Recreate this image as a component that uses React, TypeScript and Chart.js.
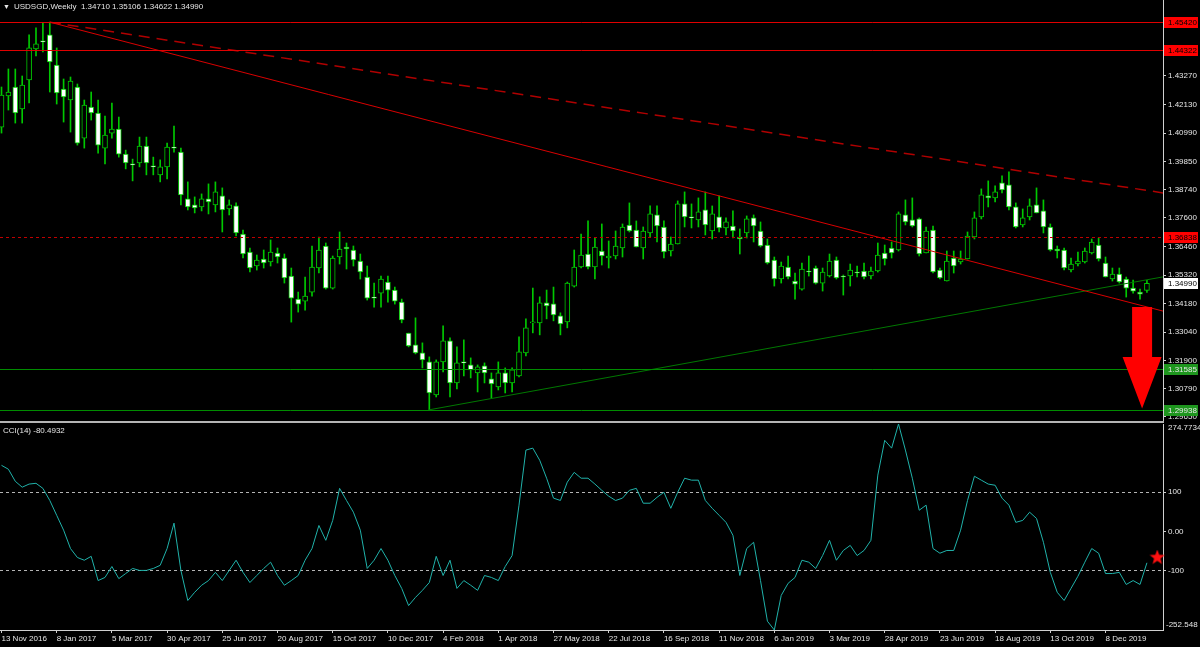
import React, { useEffect, useRef } from "react";
import { Chart, registerables } from "chart.js";

Chart.register(...registerables);

// ---------- DATA (weekly USDSGD, 13 Nov 2016 .. 19 Jan 2020) ----------
const opens = [
  1.4123, 1.4247, 1.4283, 1.4195, 1.4311, 1.4435, 1.4467, 1.4491, 1.4371, 1.4275,
  1.4231, 1.4283, 1.4079, 1.4203, 1.4179, 1.4039, 1.4099, 1.4115, 1.4015, 1.3976,
  1.398, 1.4047, 1.3968, 1.3932, 1.3964, 1.4043, 1.4023, 1.3836, 1.3812, 1.3804,
  1.3836, 1.3812, 1.3848, 1.3796, 1.3808, 1.3696, 1.3624, 1.3568, 1.3596, 1.3584,
  1.362, 1.36, 1.3528, 1.3436, 1.3428, 1.3464, 1.356, 1.3648, 1.348, 1.3604,
  1.3644, 1.3632, 1.3588, 1.3524, 1.3444, 1.346, 1.3504, 1.3472, 1.3424, 1.33,
  1.3253, 1.3221, 1.3185, 1.3053, 1.3185, 1.3269, 1.3101, 1.3185, 1.3173, 1.3141,
  1.3169, 1.3117, 1.3085, 1.3141, 1.3101, 1.3129, 1.3221, 1.3341, 1.3341, 1.3421,
  1.3417, 1.3369, 1.3345, 1.3488, 1.3564, 1.3616, 1.3564, 1.3628, 1.36, 1.3608,
  1.364, 1.3732, 1.3712, 1.364, 1.37, 1.3772, 1.3724, 1.3628, 1.3656, 1.3816,
  1.3764, 1.3752, 1.3792, 1.3708, 1.3764, 1.372, 1.3728, 1.3684, 1.37, 1.376,
  1.3708, 1.3652, 1.3592, 1.3516, 1.3564, 1.3508, 1.3476, 1.3548, 1.356, 1.35,
  1.3528, 1.3592, 1.3528, 1.3528, 1.3544, 1.3548, 1.3528, 1.3548, 1.362, 1.364,
  1.3632, 1.3772, 1.3752, 1.3756, 1.362, 1.3712, 1.3552, 1.3508, 1.36, 1.3584,
  1.3596, 1.3684, 1.3764, 1.3848, 1.384, 1.39, 1.3892, 1.3804, 1.3732, 1.3764,
  1.3812, 1.3788, 1.3724, 1.3636, 1.3632, 1.3552, 1.3576, 1.3584, 1.362, 1.3652,
  1.358, 1.3516, 1.3536, 1.3516, 1.348, 1.3464, 1.3471,
];
const highs = [
  1.4283, 1.4355, 1.4355, 1.4327, 1.4491, 1.4519, 1.4539, 1.4542, 1.4439, 1.4315,
  1.4323, 1.4295, 1.4231, 1.4263, 1.4231, 1.4167, 1.4219, 1.4163, 1.4031, 1.3995,
  1.4083, 1.4083, 1.4003, 1.3992, 1.4059, 1.4127, 1.4039, 1.3904, 1.3844, 1.3856,
  1.3896, 1.3904, 1.388, 1.3832, 1.382, 1.3712, 1.364, 1.3612, 1.3632, 1.3672,
  1.364, 1.3616, 1.356, 1.3464, 1.3524, 1.3648, 1.3684, 1.366, 1.3608, 1.3704,
  1.366, 1.3648, 1.3616, 1.3568, 1.35, 1.3528, 1.3528, 1.3484, 1.3436, 1.33,
  1.3361, 1.3261, 1.3205, 1.3193, 1.3329, 1.3281, 1.3245, 1.3273, 1.3201, 1.3173,
  1.3181, 1.3141, 1.3185, 1.3161, 1.3161, 1.3285, 1.3357, 1.348, 1.3445, 1.3472,
  1.3484, 1.3381, 1.3504, 1.3632, 1.3696, 1.3748, 1.368, 1.3736, 1.3668, 1.3708,
  1.3736, 1.382, 1.3748, 1.3724, 1.3808, 1.3808, 1.3748, 1.3684, 1.3828, 1.3864,
  1.3816, 1.384, 1.3864, 1.3808, 1.3848, 1.376, 1.3788, 1.3716, 1.3768, 1.3772,
  1.3744, 1.3676, 1.3604, 1.3584, 1.3608, 1.354, 1.358, 1.3608, 1.3568, 1.356,
  1.3616, 1.3604, 1.3532, 1.3576, 1.3568, 1.358, 1.3564, 1.366, 1.3652, 1.3664,
  1.3784, 1.3832, 1.384, 1.376, 1.3724, 1.3728, 1.356, 1.3628, 1.3628, 1.3628,
  1.3704, 1.3784, 1.3876, 1.3908, 1.3888, 1.3928, 1.3944, 1.382, 1.3796, 1.3836,
  1.388, 1.3832, 1.3736, 1.3648, 1.364, 1.36, 1.3624, 1.364, 1.3676, 1.368,
  1.3604, 1.356, 1.356, 1.3524, 1.3512, 1.3476, 1.35106,
];
const lows = [
  1.4099, 1.4191, 1.4139, 1.4139, 1.4219, 1.4407, 1.4423, 1.4263, 1.4215, 1.4143,
  1.4103, 1.4051, 1.4039, 1.4151, 1.4019, 1.3976, 1.4079, 1.4003, 1.3956, 1.3908,
  1.3964, 1.3932, 1.3932, 1.3904, 1.3916, 1.4023, 1.3812, 1.3792, 1.378, 1.3788,
  1.3776, 1.3784, 1.3704, 1.3772, 1.3688, 1.36, 1.3544, 1.3552, 1.356, 1.3568,
  1.358, 1.35, 1.3344, 1.3384, 1.3392, 1.3448, 1.354, 1.3476, 1.3476, 1.3576,
  1.3556, 1.3568, 1.3516, 1.3432, 1.3404, 1.3404, 1.3424, 1.3416, 1.3341, 1.3245,
  1.3217, 1.3161, 1.29938, 1.3045, 1.3145, 1.3045, 1.3077, 1.3129, 1.3121, 1.3065,
  1.3101, 1.3041, 1.3073, 1.3061, 1.3065, 1.3125, 1.3209, 1.3301, 1.3293, 1.3357,
  1.3349, 1.3293, 1.3321, 1.3484, 1.356, 1.3556, 1.3516, 1.3572, 1.356, 1.3596,
  1.3604, 1.3704, 1.3644, 1.3596, 1.3684, 1.3664, 1.36, 1.3608, 1.3656, 1.3724,
  1.372, 1.3724, 1.3692, 1.3676, 1.3704, 1.3692, 1.368, 1.3616, 1.368, 1.3664,
  1.3644, 1.3576, 1.3488, 1.35, 1.3516, 1.3436, 1.3472, 1.3528, 1.3496, 1.3468,
  1.3524, 1.3516, 1.3452, 1.3488, 1.3524, 1.3516, 1.3516, 1.3544, 1.3572, 1.36,
  1.3628, 1.3732, 1.3724, 1.3608, 1.362, 1.354, 1.3516, 1.3508, 1.354, 1.3576,
  1.3596, 1.3676, 1.3756, 1.3804, 1.3824, 1.386, 1.3792, 1.372, 1.3724, 1.3752,
  1.378, 1.37, 1.3628, 1.36, 1.3552, 1.3544, 1.3568, 1.358, 1.3616, 1.3588,
  1.3524, 1.3508, 1.35, 1.3444, 1.346, 1.3436, 1.34622,
];
const closes = [
  1.4251, 1.4263, 1.4179, 1.4291, 1.4439, 1.4455, 1.4463, 1.4383, 1.4259, 1.4243,
  1.4307, 1.4059, 1.4211, 1.4179, 1.4051, 1.4091, 1.4115, 1.4015, 1.398, 1.3972,
  1.4047, 1.398, 1.3964, 1.3964, 1.4043, 1.4039, 1.3852, 1.3804, 1.38, 1.3836,
  1.3824, 1.3864, 1.3792, 1.3812, 1.37, 1.3616, 1.356, 1.3592, 1.358, 1.3624,
  1.3604, 1.352, 1.344, 1.3416, 1.3448, 1.3564, 1.3632, 1.348, 1.36, 1.3636,
  1.3636, 1.3592, 1.3544, 1.344, 1.344, 1.3516, 1.3472, 1.3428, 1.3353, 1.3249,
  1.3221, 1.3193, 1.3061, 1.3185, 1.3269, 1.3101, 1.3181, 1.3181, 1.3153, 1.3165,
  1.3141, 1.3097, 1.3141, 1.3101, 1.3153, 1.3225, 1.3321, 1.3345, 1.3421, 1.3409,
  1.3373, 1.3337, 1.35, 1.3564, 1.3612, 1.3564, 1.3644, 1.3608, 1.3608, 1.3648,
  1.3724, 1.3708, 1.3644, 1.3708, 1.3776, 1.3728, 1.3624, 1.3656, 1.3816, 1.3764,
  1.376, 1.3784, 1.3732, 1.3776, 1.372, 1.3744, 1.3708, 1.3676, 1.3756, 1.3728,
  1.3648, 1.358, 1.3516, 1.3568, 1.3524, 1.3496, 1.3556, 1.3544, 1.35, 1.3544,
  1.3588, 1.352, 1.3524, 1.3552, 1.354, 1.3524, 1.3548, 1.3612, 1.3596, 1.362,
  1.3776, 1.3744, 1.3728, 1.3616, 1.3708, 1.3544, 1.352, 1.3588, 1.3568, 1.3596,
  1.3688, 1.376, 1.3852, 1.384, 1.3864, 1.3872, 1.3804, 1.3724, 1.376, 1.3808,
  1.378, 1.3724, 1.3632, 1.3628, 1.356, 1.3576, 1.3588, 1.3628, 1.3664, 1.3596,
  1.3524, 1.3536, 1.3504, 1.348, 1.3468, 1.3456, 1.3499,
];
const cci = [
  169, 159, 128, 113, 121, 123, 110, 79, 41, 3,
  -44, -67, -74, -64, -126, -118, -90, -121, -108, -95,
  -100, -100, -95, -87, -44, 21, -100, -177, -156, -138,
  -126, -105, -126, -100, -74, -105, -131, -113, -95, -79,
  -113, -138, -126, -113, -74, -44, 15, -23, 28, 110,
  79, 49, 3, -95, -74, -44, -74, -113, -146, -190,
  -169, -151, -131, -64, -113, -74, -146, -126, -138, -151,
  -113, -118, -126, -90, -62, 67, 208, 213, 182, 136,
  85, 79, 126, 151, 136, 136, 121, 105, 90, 79,
  85, 105, 110, 72, 72, 87, 100, 59, 100, 136,
  131, 131, 79, 59, 41, 23, -10, -113, -44, -28,
  -126, -230, -252.548, -164, -133, -118, -74, -79, -95, -62,
  -23, -74, -49, -36, -62, -49, -23, 144, 233, 213,
  274.7734, 208, 136, 54, 67, -44, -56, -49, -49, 3,
  79, 141, 131, 121, 118, 85, 67, 23, 28, 49,
  33, -28, -105, -156, -177, -146, -115, -79, -44, -56,
  -108, -108, -105, -136, -126, -136, -80.4932,
];

const xTickLabels = [
  "13 Nov 2016", "8 Jan 2017", "5 Mar 2017", "30 Apr 2017", "25 Jun 2017", "20 Aug 2017",
  "15 Oct 2017", "10 Dec 2017", "4 Feb 2018", "1 Apr 2018", "27 May 2018", "22 Jul 2018",
  "16 Sep 2018", "11 Nov 2018", "6 Jan 2019", "3 Mar 2019", "28 Apr 2019", "23 Jun 2019",
  "18 Aug 2019", "13 Oct 2019", "8 Dec 2019",
];
const X_TICK_STEP = 8;

const priceTicks = [
  1.4327, 1.4213, 1.4099, 1.3985, 1.3874, 1.376, 1.3646, 1.3532, 1.3418, 1.3304, 1.319, 1.3079, 1.2965,
];
const cciMidTicks = [100, 0, -100];
const cciMidTickLabels = ["100", "0.00", "-100"];
const CCI_MAX = 274.7734;
const CCI_MIN = -252.548;
const CCI_LEVELS = [100, -100];

// horizontal objects
const levelPrices = [1.4542, 1.44322, 1.36838, 1.31585, 1.29938];
// axis price tags
const tagPrices = [1.4542, 1.44322, 1.36838, 1.3499, 1.31585, 1.29938];

// trend lines: [bar index, price]
const redTrendIdx = [7, 170];
const redTrendPrice = [1.4542, 1.3376];
const redDashIdx = [7, 170];
const redDashPrice = [1.4542, 1.3853];
const greenTrendIdx = [62, 170];
const greenTrendPrice = [1.29938, 1.3533];

// arrow annotation (bar index, prices)
const ARROW_INDEX = 165.3;
const ARROW_TOP = 1.3404;
const ARROW_NECK = 1.3205;
const ARROW_TIP = 1.2999;

// star marker on CCI
const STAR_INDEX = 167.5;
const STAR_CCI = -67;

const HEADER = "USDSGD,Weekly  1.34710 1.35106 1.34622 1.34990";
const CCI_TITLE = "CCI(14) -80.4932";

// ---------- STYLE ----------
const X_MIN = -0.217;
const X_MAX = 168.33;
const PRICE_MIN = 1.2949;
const PRICE_MAX = 1.46305;
const AXIS_W = 37;
const FONT = '"Liberation Sans", Arial, sans-serif';
const TEXT = "#e6e6e6";
const AXIS_COL = "#d0d0d0";
const CANDLE = "#00c800";

const levelStyles = [
  { color: "#e00000", dash: [] as number[] },
  { color: "#e00000", dash: [] as number[] },
  { color: "#c00000", dash: [3, 3] },
  { color: "#008c00", dash: [] as number[] },
  { color: "#008c00", dash: [] as number[] },
];
const tagStyles = [
  { bg: "#ff0000", fg: "#000000" },
  { bg: "#ff0000", fg: "#000000" },
  { bg: "#ff0000", fg: "#000000" },
  { bg: "#ffffff", fg: "#000000" },
  { bg: "#1e961e", fg: "#e6e6e6" },
  { bg: "#1e961e", fg: "#e6e6e6" },
];

function makeStar(size: number, color: string) {
  const c = document.createElement("canvas");
  c.width = size;
  c.height = size;
  const g = c.getContext("2d")!;
  const cx = size / 2, cy = size / 2, R = size / 2, r = R * 0.42;
  g.beginPath();
  for (let k = 0; k < 10; k++) {
    const ang = -Math.PI / 2 + (k * Math.PI) / 5;
    const rad = k % 2 === 0 ? R : r;
    g.lineTo(cx + rad * Math.cos(ang), cy + rad * Math.sin(ang));
  }
  g.closePath();
  g.fillStyle = color;
  g.fill();
  return c;
}

const mainOverlay = {
  id: "mainOverlay",
  afterDatasetsDraw(chart: any) {
    const { ctx, chartArea: a, scales } = chart;
    const x = scales.x, y = scales.y;
    ctx.save();
    levelPrices.forEach((p, k) => {
      const st = levelStyles[k];
      const py = Math.round(y.getPixelForValue(p)) + 0.5;
      ctx.strokeStyle = st.color;
      ctx.lineWidth = 1;
      ctx.setLineDash(st.dash);
      ctx.beginPath();
      ctx.moveTo(a.left, py);
      ctx.lineTo(a.right, py);
      ctx.stroke();
    });
    ctx.setLineDash([]);
    // arrow
    const cx = x.getPixelForValue(ARROW_INDEX);
    const yt = y.getPixelForValue(ARROW_TOP);
    const yn = y.getPixelForValue(ARROW_NECK);
    const yp = y.getPixelForValue(ARROW_TIP);
    ctx.fillStyle = "#ff0000";
    ctx.beginPath();
    ctx.moveTo(cx - 10, yt);
    ctx.lineTo(cx + 10, yt);
    ctx.lineTo(cx + 10, yn);
    ctx.lineTo(cx + 19.5, yn);
    ctx.lineTo(cx, yp);
    ctx.lineTo(cx - 19.5, yn);
    ctx.lineTo(cx - 10, yn);
    ctx.closePath();
    ctx.fill();
    ctx.restore();
  },
  afterDraw(chart: any) {
    const { ctx, chartArea: a, scales } = chart;
    const y = scales.y;
    ctx.save();
    ctx.font = `8px ${FONT}`;
    ctx.textBaseline = "middle";
    ctx.textAlign = "left";
    tagPrices.forEach((p, k) => {
      const st = tagStyles[k];
      const py = Math.round(y.getPixelForValue(p));
      ctx.fillStyle = st.bg;
      ctx.fillRect(a.right + 1, py - 5, 34, 11);
      ctx.fillStyle = st.fg;
      ctx.fillText(p.toFixed(5), a.right + 5, py + 0.5);
    });
    ctx.restore();
  },
};

const cciOverlay = {
  id: "cciOverlay",
  beforeDatasetsDraw(chart: any) {
    const { ctx, chartArea: a, scales } = chart;
    const y = scales.y;
    ctx.save();
    ctx.strokeStyle = "#b4b4b4";
    ctx.lineWidth = 1;
    ctx.setLineDash([3, 3]);
    CCI_LEVELS.forEach((v) => {
      const py = Math.round(y.getPixelForValue(v)) + 0.5;
      ctx.beginPath();
      ctx.moveTo(a.left, py);
      ctx.lineTo(a.right, py);
      ctx.stroke();
    });
    ctx.restore();
  },
  afterDraw(chart: any) {
    const { ctx, chartArea: a } = chart;
    ctx.save();
    ctx.font = `8px ${FONT}`;
    ctx.fillStyle = TEXT;
    ctx.textAlign = "left";
    ctx.textBaseline = "top";
    ctx.fillText(String(CCI_MAX), a.right + 5, a.top);
    ctx.textBaseline = "bottom";
    ctx.fillText(String(CCI_MIN), a.right + 3, a.bottom - 1);
    ctx.restore();
  },
};

export default function App() {
  const topRef = useRef<HTMLCanvasElement>(null);
  const botRef = useRef<HTMLCanvasElement>(null);

  useEffect(() => {
    document.body.style.margin = "0";
    document.body.style.background = "#000";
    const idx = opens.map((_, i) => i);

    const mainCfg: any = {
      type: "bar",
      data: {
        datasets: [
          {
            type: "line",
            data: redTrendIdx.map((v, k) => ({ x: v, y: redTrendPrice[k] })),
            borderColor: "#d80000",
            borderWidth: 1,
            pointRadius: 0,
            order: 0,
          },
          {
            type: "line",
            data: redDashIdx.map((v, k) => ({ x: v, y: redDashPrice[k] })),
            borderColor: "#b00000",
            borderWidth: 1.5,
            borderDash: [11, 7],
            pointRadius: 0,
            order: 0,
          },
          {
            type: "line",
            data: greenTrendIdx.map((v, k) => ({ x: v, y: greenTrendPrice[k] })),
            borderColor: "#007800",
            borderWidth: 1,
            pointRadius: 0,
            order: 0,
          },
          {
            type: "bar",
            data: idx.map((i) => ({ x: i, y: [opens[i], closes[i]] })),
            backgroundColor: idx.map((i) => (closes[i] >= opens[i] ? "#000000" : "#ffffff")),
            borderColor: CANDLE,
            borderWidth: 1,
            borderSkipped: false,
            barThickness: 5,
            minBarLength: 1,
            grouped: false,
            order: 1,
          },
          {
            type: "bar",
            data: idx.map((i) => ({ x: i, y: [lows[i], highs[i]] })),
            backgroundColor: CANDLE,
            borderWidth: 0,
            barThickness: 1,
            grouped: false,
            order: 2,
          },
        ],
      },
      options: {
        animation: false,
        responsive: false,
        maintainAspectRatio: false,
        devicePixelRatio: 1,
        events: [],
        layout: { padding: 0, autoPadding: false },
        plugins: { legend: { display: false }, tooltip: { enabled: false } },
        scales: {
          x: {
            type: "linear",
            min: X_MIN,
            max: X_MAX,
            offset: false,
            display: false,
          },
          y: {
            type: "linear",
            position: "right",
            min: PRICE_MIN,
            max: PRICE_MAX,
            afterBuildTicks: (s: any) => {
              s.ticks = priceTicks.map((v) => ({ value: v }));
            },
            afterFit: (s: any) => {
              s.width = AXIS_W;
              s.paddingTop = 0;
              s.paddingBottom = 0;
            },
            ticks: {
              autoSkip: false,
              color: TEXT,
              font: { family: FONT, size: 8 },
              padding: 2,
              callback: (v: any) => Number(v).toFixed(5),
            },
            grid: { drawOnChartArea: false, color: AXIS_COL, tickLength: 3 },
            border: { color: AXIS_COL, width: 1 },
          },
        },
      },
      plugins: [mainOverlay],
    };

    const cciCfg: any = {
      type: "line",
      data: {
        datasets: [
          {
            data: idx.map((i) => ({ x: i, y: cci[i] })),
            borderColor: "#20b2aa",
            borderWidth: 1,
            pointRadius: 0,
            tension: 0,
          },
          {
            data: [{ x: STAR_INDEX, y: STAR_CCI }],
            showLine: false,
            pointStyle: makeStar(16, "#ff1010"),
            pointRadius: 8,
            clip: false,
          },
        ],
      },
      options: {
        animation: false,
        responsive: false,
        maintainAspectRatio: false,
        devicePixelRatio: 1,
        events: [],
        layout: { padding: { top: 1, left: 0, right: 0, bottom: 0 }, autoPadding: false },
        plugins: { legend: { display: false }, tooltip: { enabled: false } },
        scales: {
          x: {
            type: "linear",
            min: X_MIN,
            max: X_MAX,
            offset: false,
            afterBuildTicks: (s: any) => {
              s.ticks = xTickLabels.map((_, k) => ({ value: k * X_TICK_STEP }));
            },
            afterFit: (s: any) => {
              s.height = 17;
              s.paddingLeft = 0;
              s.paddingRight = 0;
            },
            ticks: {
              autoSkip: false,
              maxRotation: 0,
              minRotation: 0,
              align: "start",
              color: TEXT,
              font: { family: FONT, size: 8 },
              padding: 1,
              callback: (_v: any, i: number) => xTickLabels[i],
            },
            grid: { drawOnChartArea: false, color: AXIS_COL, tickLength: 3 },
            border: { color: AXIS_COL, width: 1 },
          },
          y: {
            type: "linear",
            position: "right",
            min: CCI_MIN,
            max: CCI_MAX,
            afterBuildTicks: (s: any) => {
              s.ticks = cciMidTicks.map((v) => ({ value: v }));
            },
            afterFit: (s: any) => {
              s.width = AXIS_W;
              s.paddingTop = 0;
              s.paddingBottom = 0;
            },
            ticks: {
              autoSkip: false,
              color: TEXT,
              font: { family: FONT, size: 8 },
              padding: 2,
              callback: (_v: any, i: number) => cciMidTickLabels[i],
            },
            grid: { drawOnChartArea: false, color: AXIS_COL, tickLength: 3 },
            border: { color: AXIS_COL, width: 1 },
          },
        },
      },
      plugins: [cciOverlay],
    };

    const c1 = new Chart(topRef.current!, mainCfg);
    const c2 = new Chart(botRef.current!, cciCfg);
    return () => {
      c1.destroy();
      c2.destroy();
    };
  }, []);

  const textStyle: React.CSSProperties = {
    position: "absolute",
    color: TEXT,
    font: `8px ${FONT}`,
    whiteSpace: "pre",
    lineHeight: "10px",
  };

  return (
    <div style={{ position: "relative", width: 1200, height: 647, background: "#000", overflow: "hidden" }}>
      <canvas ref={topRef} width={1200} height={421} style={{ position: "absolute", left: 0, top: 0 }} />
      <div style={{ position: "absolute", left: 0, top: 421, width: 1164, height: 2, background: "#b4b4b4" }} />
      <canvas ref={botRef} width={1200} height={224} style={{ position: "absolute", left: 0, top: 423 }} />
      <div style={{ ...textStyle, left: 3, top: 2 }}>
        <span style={{ fontSize: 7, marginRight: 4 }}>▼</span>
        {HEADER}
      </div>
      <div style={{ ...textStyle, left: 3, top: 426 }}>{CCI_TITLE}</div>
    </div>
  );
}
